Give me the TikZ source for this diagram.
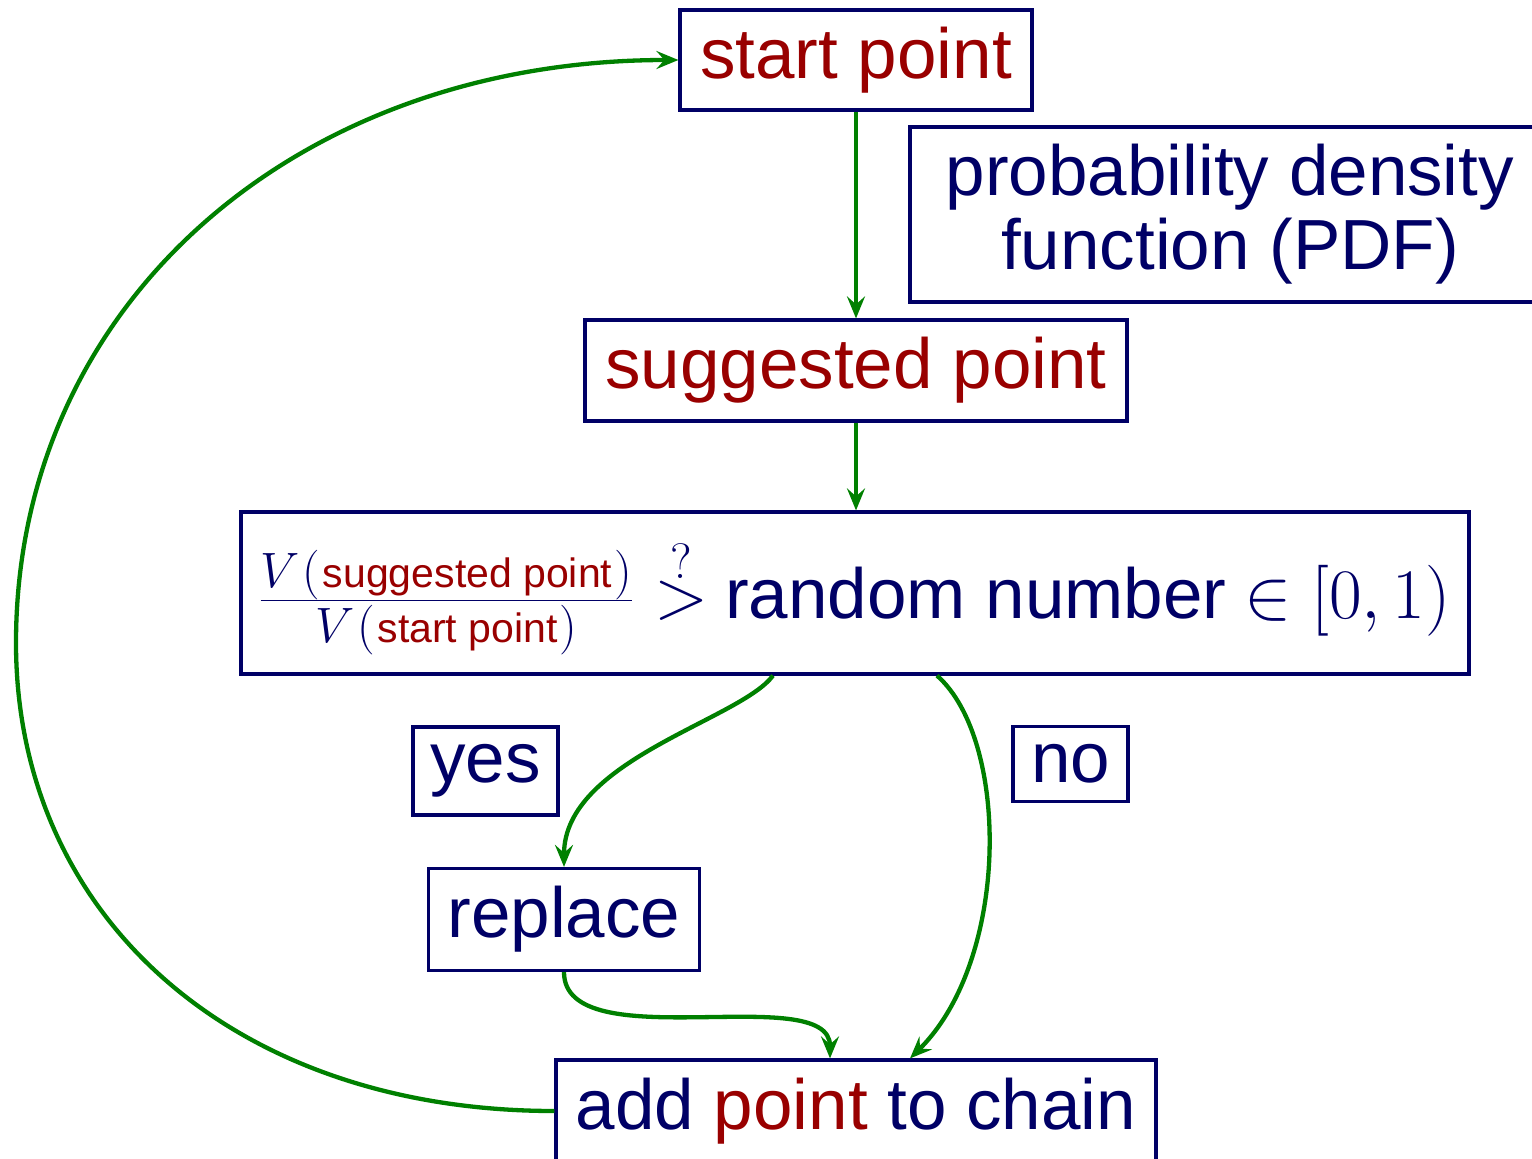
\RequirePackage{fix-cm}
\documentclass[tikz,border=0pt]{standalone}
\usepackage[no-math]{fontspec}
\setmainfont{Liberation Sans}
\usetikzlibrary{arrows.meta}
\definecolor{navy}{RGB}{0,0,102}
\definecolor{dred}{RGB}{153,0,0}
\definecolor{dgreen}{RGB}{0,128,0}
\newcommand{\redsmall}[1]{\kern2.5pt\mbox{\fontsize{41}{41}\selectfont\textcolor{dred}{#1}}\kern2pt}
\begin{document}
\begin{tikzpicture}[x=1pt,y=-1pt,
  box/.style={draw=navy, line width=3.2pt, inner sep=0pt, align=center,
              text=navy, font=\fontsize{71}{74}\selectfont},
  conn/.style={draw=dgreen, line width=4.3pt,
              -{Stealth[length=22pt,width=18pt,inset=8pt]}}]
\useasboundingbox (0,0) rectangle (1532,1159);

\node[box, text=dred, minimum width=352pt, minimum height=100pt] (start) at (856,60) {start point};
\node[box, minimum width=640pt, minimum height=175pt] (pdf) at (1230,214.5) {probability density\\function (PDF)};
\node[box, text=dred, minimum width=542pt, minimum height=101pt] (sugg) at (856,370.5) {suggested point};
\node[box, minimum width=1228pt, minimum height=162pt] (formula) at (855,593)
  {\raisebox{-6pt}[\height][\depth]{$\frac{V\kern3pt(\redsmall{suggested point})}{V\kern3pt(\redsmall{start point})}$\hspace{21pt}$\stackrel{?}{>}$\hspace{17pt}random number\hspace{18pt}$\in[0,1)$}};
\node[box, minimum width=145pt, minimum height=88pt] (yes) at (485.5,771) {yes};
\node[box, minimum width=115pt, minimum height=75pt] (no) at (1070.5,764) {no};
\node[box, minimum width=271pt, minimum height=102pt] (replace) at (564,919.5) {replace};
\node[box, minimum width=600pt, minimum height=102pt] (add) at (856,1111) {add \textcolor{dred}{point} to chain};

\draw[conn] (start) -- (sugg);
\draw[conn] (sugg.south) -- (sugg.south |- formula.north);
\draw[conn] ([xshift=-82pt]formula.south) .. controls (740,720) and (564,760) .. (replace.north);
\draw[conn] ([xshift=82pt]formula.south) .. controls (1010,740) and (1010,960) .. ([xshift=54pt]add.north);
\draw[conn] (replace.south) .. controls (564,1060) and (830,980) .. ([xshift=-26pt]add.north);
\draw[conn] (add.west) .. controls (232,1111) and (16,915) .. (16,643)
  .. controls (16,305) and (295,60) .. (start.west);
\end{tikzpicture}
\end{document}
